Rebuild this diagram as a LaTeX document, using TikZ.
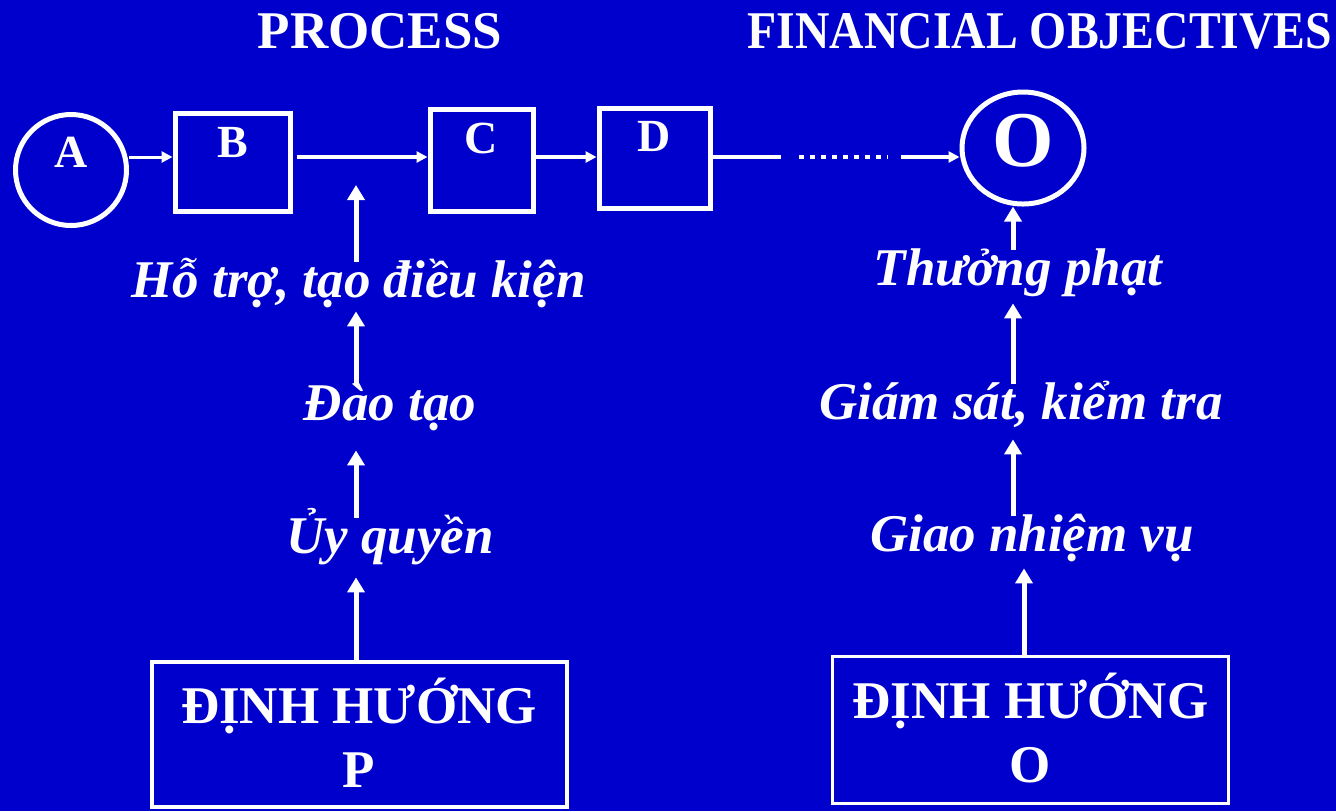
\documentclass[tikz,border=0pt]{standalone}
\usepackage{fontspec}
\setmainfont{Liberation Serif}
\usepackage{graphicx}
\usetikzlibrary{arrows.meta,shapes.geometric}
\definecolor{slideblue}{RGB}{0,0,204}

\begin{document}
\begin{tikzpicture}[x=0.5pt,y=-0.5pt,
  shapebox/.style={draw=white,line width=2.5pt,inner sep=0pt,text=white,
    text height=15pt,font=\fontsize{23}{28}\selectfont\bfseries},
  bigbox/.style={draw=white,inner sep=0pt,text=white,align=center,text depth=3pt,
    font=\fontsize{26.5}{32}\selectfont\bfseries},
  heading/.style={anchor=base,inner sep=0pt,text=white,
    font=\fontsize{26.5}{32}\selectfont\bfseries},
  steplabel/.style={anchor=base,inner sep=0pt,text=white,text height=17.5pt,
    text depth=7pt,font=\fontsize{26.5}{32}\selectfont\bfseries\itshape},
  flow/.style={draw=white,line width=2.25pt},
  flowarr/.style={flow,-{Triangle[width=5.5pt,length=5.5pt]}},
  uparr/.style={draw=white,line width=2.5pt,-{Triangle[width=8.5pt,length=7.5pt]}}]
  \fill[slideblue] (0,0) rectangle (1336,811);
  \useasboundingbox (0,0) rectangle (1336,811);

  \node[heading] (proc) at (380,48) {PROCESS};
  \node[heading] (fin) at (1040,48) {\scalebox{0.9}[1]{FINANCIAL OBJECTIVES}};

  \node[shapebox,circle,minimum size=55.5pt,text depth=18pt] (A) at (71,170) {A};
  \node[shapebox,minimum width=57.5pt,minimum height=49pt,text depth=20pt] (B) at (232.5,162) {B};
  \node[shapebox,minimum width=51.5pt,minimum height=51pt,text depth=22pt] (C) at (481.5,160) {C};
  \node[shapebox,minimum width=55.5pt,minimum height=50pt,text depth=22pt] (D) at (654.5,158) {D};
  \node[shapebox,ellipse,minimum width=61pt,minimum height=56pt,text height=26pt,text depth=8pt,
    font=\fontsize{39.5}{44}\selectfont\bfseries] (O) at (1023,148) {O};

  \coordinate (row) at (0,157);
  \coordinate (d1) at (781,157);
  \coordinate (d2) at (799,157);
  \coordinate (d3) at (888,157);
  \coordinate (d4) at (901,157);
  \draw[flowarr,line width=1.5pt] (A.east |- row) -- (B.west |- row);
  \draw[flowarr,shorten <=2pt] (B.east |- row) -- (C.west |- row);
  \draw[flowarr] (C.east |- row) -- (D.west |- row);
  \draw[flow] (D.east |- row) -- (d1);
  \draw[flow,dash pattern=on 2.5pt off 3pt] (d2) -- (d3);
  \draw[flowarr] (d4) -- (O.west |- row);

  \node[steplabel] (hotro) at (358.5,297) {Hỗ trợ, tạo điều kiện};
  \node[steplabel] (daotao) at (390,420) {Đào tạo};
  \node[steplabel] (uyquyen) at (390,553) {Ủy quyền};
  \node[bigbox,line width=2pt,text height=56pt,minimum width=207.5pt,minimum height=72.5pt] (boxP)
    at (359,734) {ĐỊNH HƯỚNG\\P};

  \node[steplabel] (thuong) at (1018,285) {Thưởng phạt};
  \node[steplabel] (giamsat) at (1021,419) {Giám sát, kiểm tra};
  \node[steplabel] (giao) at (1032,551) {Giao nhiệm vụ};
  \node[bigbox,line width=1.25pt,text height=55pt,minimum width=198pt,minimum height=73.5pt] (boxO)
    at (1030.5,730) {ĐỊNH HƯỚNG\\O};

  \coordinate (pcol) at (356,0);
  \coordinate (bc) at (356,185);
  \draw[uparr] (hotro.north -| pcol) -- (bc);
  \draw[uparr] (daotao.north -| pcol) -- (hotro.south -| pcol);
  \draw[uparr,shorten >=8pt] (uyquyen.north -| pcol) -- (daotao.south -| pcol);
  \draw[uparr,shorten >=5pt] (boxP.north -| pcol) -- (uyquyen.south -| pcol);

  \coordinate (ocol) at (1013,0);
  \coordinate (gcol) at (1024,0);
  \draw[uparr] (thuong.north -| ocol) -- (O.south -| ocol);
  \draw[uparr,shorten >=2pt] (giamsat.north -| ocol) -- (thuong.south -| ocol);
  \draw[uparr,shorten >=3pt] (giao.north -| ocol) -- (giamsat.south -| ocol);
  \draw[uparr,shorten >=1.5pt] (boxO.north -| gcol) -- (giao.south -| gcol);
\end{tikzpicture}
\end{document}
